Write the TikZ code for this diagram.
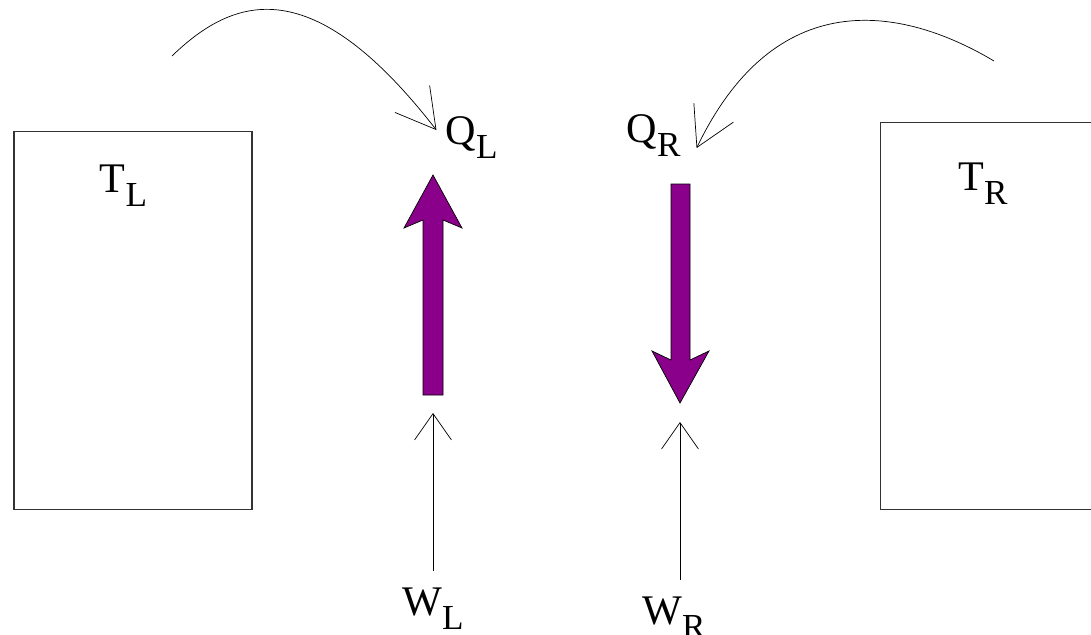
\documentclass[tikz,border=0pt]{standalone}
\usepackage{fontspec}
\setmainfont{Liberation Serif}
\usepackage{xcolor}
\usetikzlibrary{arrows.meta,positioning,calc}

\definecolor{heatpurple}{RGB}{139,0,139}
\newcommand{\sublab}[2]{#1\raisebox{-8pt}{\fontsize{20pt}{20pt}\selectfont #2}}

\tikzset{
    reservoir/.style={rectangle, draw=black!80, line width=0.6pt},
    lab/.style={inner sep=0pt, anchor=base, font=\fontsize{24pt}{24pt}\selectfont},
    heatflow/.style={-{Straight Barb[length=22pt, width=25pt]}},
    workflow/.style={-{Straight Barb[length=15pt, width=21pt]}, shorten <=0.33cm},
    bigarrow/.style={fill=heatpurple, draw=black, line width=0.4pt}
}

\begin{document}
\begin{tikzpicture}[x=0.02cm, y=-0.02cm]
    \useasboundingbox (0,0) rectangle (1091,635);

    % Reservoirs
    \node[reservoir, minimum width=4.76cm, minimum height=7.58cm] (left) at (133,320.5) {};
    \node[reservoir, minimum width=4.6cm, minimum height=7.76cm] (right) at (995,316) {};
    \node[lab] (tl) at (123.5,192) {\sublab{T}{L}};
    \node[lab] (tr) at (983,190) {\sublab{T}{R}};

    % Heat labels
    \node[lab, inner xsep=5pt] (ql) at (471.5,144) {\sublab{Q}{L}};
    \node[lab, inner xsep=5pt] (qr) at (653.5,142) {\sublab{Q}{R}};

    % Work labels
    \node[lab] (wl) at (433,615) {\sublab{W}{L}};
    \node[lab] (wr) at (674,624) {\sublab{W}{R}};

    % Heat flow
    \coordinate (hotstart) at (172,56);
    \coordinate (coldstart) at (994,61);
    \draw[heatflow] (hotstart) .. controls (235,-5) and (313,-29) .. ([yshift=0.14cm]ql.west);
    \draw[heatflow] (coldstart) .. controls (900,5) and (775,-15) .. ([xshift=0.14cm, yshift=-0.26cm]qr.east);

    % Work
    \coordinate (wltip) at (433,413);
    \coordinate (wrtip) at (680,422);
    \draw[workflow] (wl.north) -- (wltip);
    \draw[workflow] (wr.north -| wrtip) -- (wrtip);

    % Purple arrows
    \draw[bigarrow] (423,395) -- (443,395) -- (443,220) -- (462,228) -- (433,175)
        -- (404,228) -- (423,220) -- cycle;
    \draw[bigarrow] (671,184) -- (690,184) -- (690,360) -- (709,351) -- (680,403)
        -- (652,351) -- (671,360) -- cycle;
\end{tikzpicture}
\end{document}
